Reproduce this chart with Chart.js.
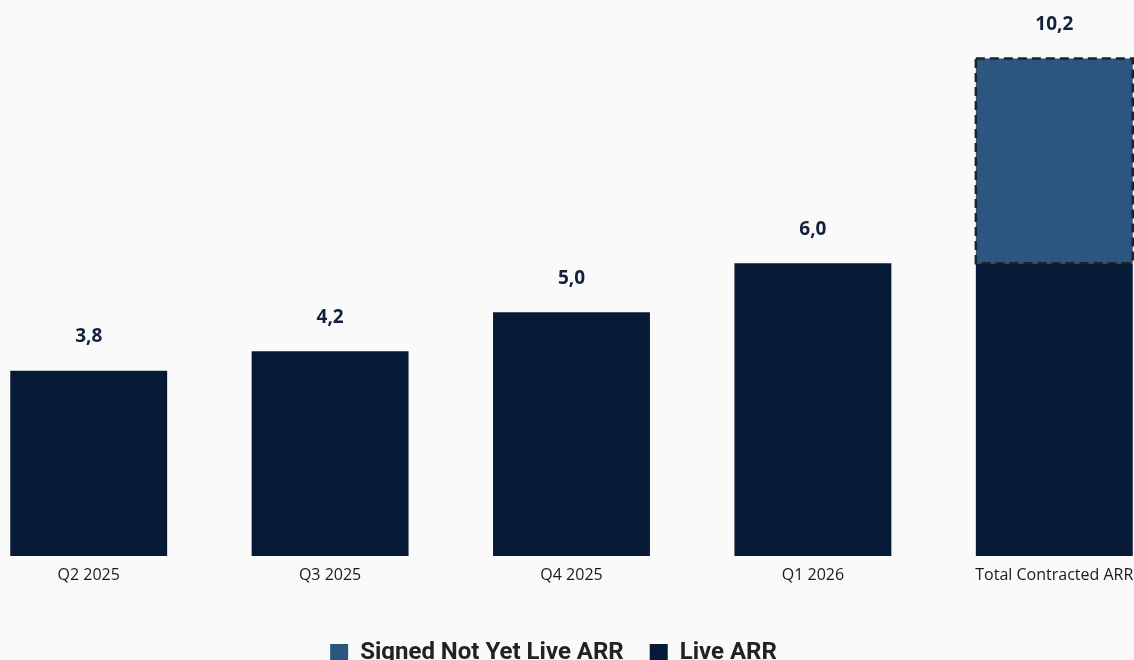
<!DOCTYPE html>
<html>
<head>
<meta charset="utf-8">
<script src="https://cdn.jsdelivr.net/npm/chart.js@4/dist/chart.umd.min.js"></script>
<style>
  html, body { margin: 0; padding: 0; background: #fafafa; overflow: hidden; width: 1134px; height: 660px; }
  #wrap { position: absolute; left: -32px; top: 0; width: 1207px; height: 675px; }
</style>
</head>
<body>
<div id="wrap"><canvas id="arrChart"></canvas></div>
<script>
// data (ARR, millions)
const categories = ['Q2 2025', 'Q3 2025', 'Q4 2025', 'Q1 2026', 'Total Contracted ARR'];
const liveArr = [3.8, 4.2, 5.0, 6.0, 6.0];
const signedArr = [0, 0, 0, 0, 4.2];
const yMax = 11.4;

const LIVE_COLOR = '#061a35';
const SIGNED_COLOR = '#2c5580';

function formatComma(v) {
    return v.toFixed(1).replace('.', ',');
}

// total value above each stack
const totalLabels = {
    id: 'totalLabels',
    afterDatasetsDraw(chart) {
        const ctx = chart.ctx;
        const yScale = chart.scales.y;
        const xScale = chart.scales.x;
        ctx.save();
        ctx.font = 'bold 19px "Open Sans", sans-serif';
        ctx.fillStyle = '#13213b';
        ctx.textAlign = 'center';
        ctx.textBaseline = 'middle';
        categories.forEach((c, i) => {
            const total = liveArr[i] + signedArr[i];
            const x = xScale.getPixelForValue(i);
            const y = yScale.getPixelForValue(total) - 34;
            ctx.fillText(formatComma(total), x, y);
        });
        ctx.restore();
    }
};

// dashed outline around the signed-not-live segment
const dashedOutline = {
    id: 'dashedOutline',
    afterDatasetsDraw(chart) {
        const meta = chart.getDatasetMeta(1);
        const ctx = chart.ctx;
        ctx.save();
        ctx.strokeStyle = '#1e232a';
        ctx.lineWidth = 2.5;
        ctx.setLineDash([9, 5]);
        meta.data.forEach((bar, i) => {
            if (!signedArr[i]) return;
            const p = bar.getProps(['x', 'y', 'base', 'width'], true);
            ctx.strokeRect(p.x - p.width / 2, p.y, p.width, p.base - p.y);
        });
        ctx.restore();
    }
};

// nudge legend a bit left, like the original
const legendShift = {
    id: 'legendShift',
    afterLayout(chart) {
        chart.legend.left -= 18;
        chart.legend.right -= 18;
    }
};

const ctx = document.getElementById('arrChart').getContext('2d');
new Chart(ctx, {
    type: 'bar',
    data: {
        labels: categories,
        datasets: [
            {
                label: 'Live ARR',
                data: liveArr,
                backgroundColor: LIVE_COLOR,
                borderWidth: 0
            },
            {
                label: 'Signed Not Yet Live ARR',
                data: signedArr,
                backgroundColor: SIGNED_COLOR,
                borderWidth: 0
            }
        ]
    },
    options: {
        responsive: true,
        maintainAspectRatio: false,
        animation: false,
        layout: { padding: 0 },
        datasets: {
            bar: { categoryPercentage: 1, barPercentage: 0.65 }
        },
        scales: {
            x: {
                stacked: true,
                grid: { display: false },
                border: { display: false },
                ticks: {
                    color: '#1a1a1a',
                    padding: 2,
                    font: { family: '"Open Sans", sans-serif', size: 16 }
                },
                afterFit(scale) { scale.height = 59; }
            },
            y: {
                stacked: true,
                display: false,
                min: 0,
                max: yMax
            }
        },
        plugins: {
            legend: {
                position: 'bottom',
                reverse: true,
                labels: {
                    boxWidth: 18,
                    boxHeight: 18,
                    padding: 26,
                    color: '#222',
                    font: { family: 'Roboto, sans-serif', size: 24, weight: 'bold' }
                }
            },
            tooltip: { enabled: false }
        }
    },
    plugins: [totalLabels, dashedOutline, legendShift]
});
</script>
</body>
</html>
